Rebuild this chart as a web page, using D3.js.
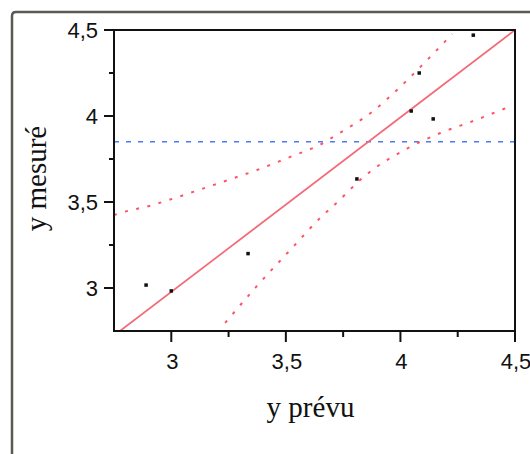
<!DOCTYPE html>
<html lang="fr">
<head>
<meta charset="UTF-8">
<title>y mesuré vs y prévu</title>
<script src="https://d3js.org/d3.v7.min.js"></script>
<style>
  body {
    margin: 0;
    background: #ffffff;
  }
  .tick-label {
    font-family: "Liberation Sans", Arial, sans-serif;
    font-size: 22px;
    fill: #111;
  }
  .axis-title {
    font-family: "Liberation Serif", "Times New Roman", serif;
    font-size: 29px;
    fill: #111;
  }
</style>
</head>
<body>
<svg id="chart"></svg>

<script>
// points observés : y prévu / y mesuré
var predicted = [2.89, 3.00, 3.335, 3.81, 4.047, 4.082, 4.143, 4.318];
var measured  = [3.017, 2.983, 3.20, 3.634, 4.029, 4.25, 3.983, 4.47];

// droite d'ajustement (deux extrémités)
var fitX = [2.776, 4.5];
var fitY = [2.75, 4.5];

// bande de confiance supérieure
var upperX = [2.75, 2.763, 2.920, 3.069, 3.222, 3.374, 3.519, 3.663, 3.706, 3.881, 3.999, 4.117, 4.226];
var upperY = [3.424, 3.430, 3.483, 3.547, 3.616, 3.686, 3.762, 3.843, 3.878, 4.029, 4.169, 4.326, 4.477];

// bande de confiance inférieure
var lowerX = [3.235, 3.374, 3.519, 3.663, 3.702, 3.855, 4.034, 4.174, 4.318, 4.471];
var lowerY = [2.797, 3.012, 3.221, 3.424, 3.471, 3.663, 3.814, 3.901, 3.971, 4.052];

// moyenne
var meanY = 3.85;

// graduations
var majorTicks = [3, 3.5, 4, 4.5];
var minorTicks = [3.25, 3.75, 4.25];
var yMajorTicks = [3, 3.5, 4, 4.5];
var yMinorTicks = [3.25, 3.75, 4.25];

var width = 530, height = 454;
var mLeft = 114, mRight = 515, mTop = 30, mBottom = 331;

var svg = d3.select("#chart")
  .attr("width", width)
  .attr("height", height);

var x = d3.scaleLinear().domain([2.75, 4.5]).range([mLeft, mRight]);
var y = d3.scaleLinear().domain([2.75, 4.5]).range([mBottom, mTop]);

var fmt = function(d) { return String(d).replace(".", ","); };

// cadre extérieur
svg.append("path")
  .attr("d", "M12,460 L12,16 Q12,12 16,12 L532,12")
  .attr("fill", "none")
  .attr("stroke", "#5a5a52")
  .attr("stroke-width", 2.5);

svg.append("defs").append("clipPath").attr("id", "clip")
  .append("rect")
  .attr("x", mLeft).attr("y", mTop)
  .attr("width", mRight - mLeft).attr("height", mBottom - mTop);

var plot = svg.append("g").attr("clip-path", "url(#clip)");

// ligne de moyenne
plot.append("line")
  .attr("x1", x(2.75)).attr("x2", x(4.5))
  .attr("y1", y(meanY)).attr("y2", y(meanY))
  .attr("stroke", "#4a7bf7")
  .attr("stroke-width", 1.5)
  .attr("stroke-dasharray", "5,7");

var line = d3.line()
  .x(function(d) { return x(d[0]); })
  .y(function(d) { return y(d[1]); })
  .curve(d3.curveMonotoneX);

// bandes de confiance
plot.append("path")
  .datum(d3.zip(upperX, upperY))
  .attr("d", line)
  .attr("fill", "none")
  .attr("stroke", "#ff5468")
  .attr("stroke-width", 2)
  .attr("stroke-dasharray", "3,8.5");

plot.append("path")
  .datum(d3.zip(lowerX, lowerY))
  .attr("d", line)
  .attr("fill", "none")
  .attr("stroke", "#ff5468")
  .attr("stroke-width", 2)
  .attr("stroke-dasharray", "3,8.5");

// droite d'ajustement
plot.append("path")
  .datum(d3.zip(fitX, fitY))
  .attr("d", d3.line().x(function(d) { return x(d[0]); }).y(function(d) { return y(d[1]); }))
  .attr("fill", "none")
  .attr("stroke", "#f36a78")
  .attr("stroke-width", 1.7);

// points
svg.selectAll("rect.pt")
  .data(d3.zip(predicted, measured))
  .enter()
  .append("rect")
  .attr("class", "pt")
  .attr("x", function(d) { return x(d[0]) - 1.75; })
  .attr("y", function(d) { return y(d[1]) - 1.75; })
  .attr("width", 3.5)
  .attr("height", 3.5)
  .attr("fill", "#111");

// cadre du graphique
svg.append("rect")
  .attr("x", mLeft).attr("y", mTop)
  .attr("width", mRight - mLeft).attr("height", mBottom - mTop)
  .attr("fill", "none")
  .attr("stroke", "#111")
  .attr("stroke-width", 2);

// graduations x
svg.selectAll("line.xmaj")
  .data(majorTicks)
  .enter().append("line")
  .attr("x1", function(d) { return x(d); }).attr("x2", function(d) { return x(d); })
  .attr("y1", mBottom).attr("y2", mBottom + 11)
  .attr("stroke", "#111").attr("stroke-width", 2);

svg.selectAll("line.xmin")
  .data(minorTicks)
  .enter().append("line")
  .attr("x1", function(d) { return x(d); }).attr("x2", function(d) { return x(d); })
  .attr("y1", mBottom).attr("y2", mBottom + 6)
  .attr("stroke", "#111").attr("stroke-width", 2);

svg.selectAll("text.xl")
  .data(majorTicks)
  .enter().append("text")
  .attr("class", "tick-label")
  .attr("x", function(d) { return x(d) + 1; })
  .attr("y", 369)
  .attr("text-anchor", "middle")
  .text(fmt);

// graduations y
svg.selectAll("line.ymaj")
  .data(yMajorTicks)
  .enter().append("line")
  .attr("x1", mLeft - 10).attr("x2", mLeft)
  .attr("y1", function(d) { return y(d); }).attr("y2", function(d) { return y(d); })
  .attr("stroke", "#111").attr("stroke-width", 2);

svg.selectAll("line.ymin")
  .data(yMinorTicks)
  .enter().append("line")
  .attr("x1", mLeft - 5).attr("x2", mLeft)
  .attr("y1", function(d) { return y(d); }).attr("y2", function(d) { return y(d); })
  .attr("stroke", "#111").attr("stroke-width", 2);

svg.selectAll("text.yl")
  .data(yMajorTicks)
  .enter().append("text")
  .attr("class", "tick-label")
  .attr("x", 98)
  .attr("y", function(d) { return y(d) + 8; })
  .attr("text-anchor", "end")
  .text(fmt);

// titres des axes
svg.append("text")
  .attr("class", "axis-title")
  .attr("x", (mLeft + mRight) / 2 - 4)
  .attr("y", 417)
  .attr("text-anchor", "middle")
  .text("y prévu");

svg.append("text")
  .attr("class", "axis-title")
  .attr("transform", "translate(46," + ((mTop + mBottom) / 2 - 2) + ") rotate(-90)")
  .attr("text-anchor", "middle")
  .text("y mesuré");
</script>
</body>
</html>
